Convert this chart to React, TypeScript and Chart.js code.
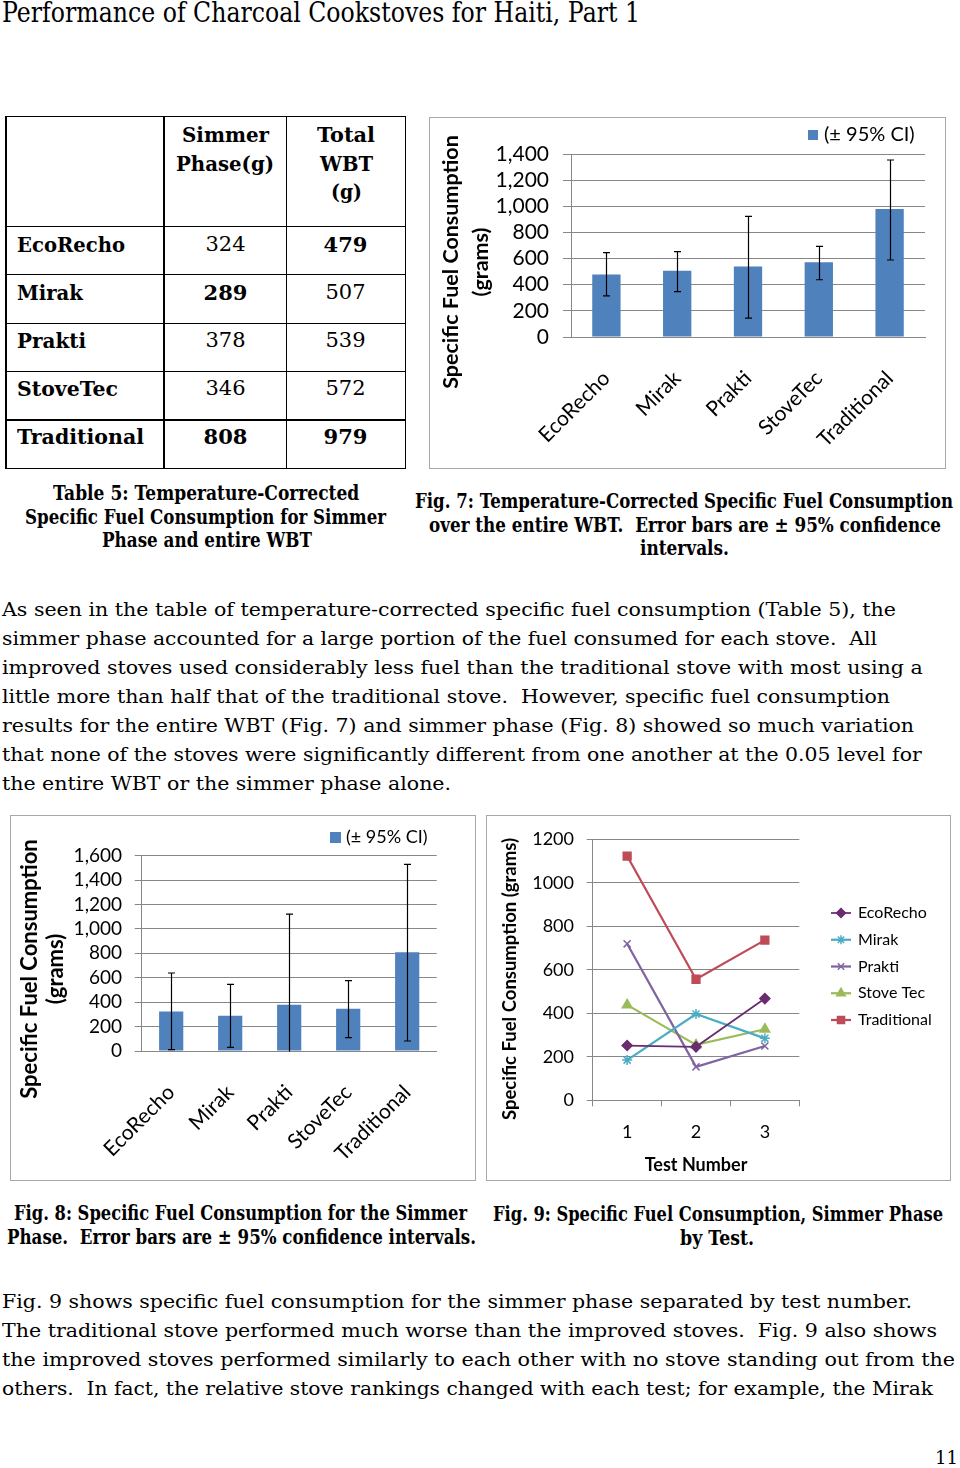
import React, { useEffect, useLayoutEffect, useRef } from 'react';
import { Chart, registerables } from 'chart.js';
import { drawPoint } from 'chart.js/helpers';

Chart.register(...registerables);

// ---------------- data ----------------
const stoves = ['EcoRecho', 'Mirak', 'Prakti', 'StoveTec', 'Traditional'];
const simmerPhase = [324, 289, 378, 346, 808];
const totalWbt = [479, 507, 539, 572, 979];
const simmerBold = [false, true, false, false, true];
const totalBold = [true, false, false, false, true];
const totalCiLow = [314, 347, 145, 438, 589];
const totalCiHigh = [645, 653, 923, 694, 1354];
const simmerCiLow = [11, 30, -366, 109, 82];
const simmerCiHigh = [639, 546, 1122, 576, 1529];
const ciLabel = '(± 95% CI)';

const testNumbers = ['1', '2', '3'];
const fig9Series = ['EcoRecho', 'Mirak', 'Prakti', 'Stove Tec', 'Traditional'];
const ecoRechoByTest = [252, 246, 468];
const mirakByTest = [185, 397, 285];
const praktiByTest = [720, 154, 250];
const stoveTecByTest = [439, 255, 327];
const traditionalByTest = [1124, 557, 737];

const fig7YMax = 1400;
const fig8YMax = 1600;
const fig9YMax = 1200;
const yStep = 200;

// ---------------- styles ----------------
const SERIF = '"DejaVu Serif", "Liberation Serif", serif';
const SANS = 'Lato, "Open Sans", sans-serif';
const BLUE = '#4F81BD';
const GRID = '#878787';
const BOX = '#a8a8a8';

Chart.defaults.font.family = SANS;

// ---------------- plugin ----------------
const annotPlugin: any = {
  id: 'annot',
  afterDatasetsDraw(chart: any, _a: any, o: any) {
    const eb = o && o.errorBars;
    if (!eb) return;
    const { ctx, chartArea: ca } = chart;
    const meta = chart.getDatasetMeta(0);
    const ys = chart.scales.y;
    ctx.save();
    ctx.beginPath();
    ctx.rect(ca.left - 10, ca.top - 20, ca.width + 20, ca.height + 20.5);
    ctx.clip();
    ctx.strokeStyle = eb.color;
    ctx.lineWidth = eb.width;
    meta.data.forEach((bar: any, i: number) => {
      const x = Math.round(bar.x) + 0.5;
      const yl = ys.getPixelForValue(eb.low[i]);
      const yh = ys.getPixelForValue(eb.high[i]);
      ctx.beginPath();
      ctx.moveTo(x, yl);
      ctx.lineTo(x, yh);
      ctx.moveTo(x - eb.cap, yh);
      ctx.lineTo(x + eb.cap, yh);
      ctx.moveTo(x - eb.cap, yl);
      ctx.lineTo(x + eb.cap, yl);
      ctx.stroke();
    });
    ctx.restore();
  },
  afterDraw(chart: any, _a: any, o: any) {
    if (!o) return;
    const ctx = chart.ctx;
    if (o.yTitle) {
      const t = o.yTitle;
      ctx.save();
      ctx.fillStyle = '#000';
      ctx.font = `bold ${t.size}px ${SANS}`;
      ctx.textAlign = 'center';
      ctx.textBaseline = 'middle';
      t.lines.forEach((line: string, i: number) => {
        ctx.save();
        ctx.translate(t.xs[i], t.y);
        ctx.rotate(-Math.PI / 2);
        ctx.fillText(line, 0, 0);
        ctx.restore();
      });
      ctx.restore();
    }
    if (o.boxLegend) {
      const L = o.boxLegend;
      const ds = chart.data.datasets[0];
      ctx.save();
      ctx.fillStyle = ds.backgroundColor;
      ctx.fillRect(L.x, L.y, L.box, L.box);
      ctx.fillStyle = '#000';
      ctx.font = `${L.size}px ${SANS}`;
      ctx.textAlign = 'left';
      ctx.textBaseline = 'middle';
      ctx.fillText(ds.label, L.textX, L.y + L.box / 2);
      ctx.restore();
    }
    if (o.lineLegend) {
      const L = o.lineLegend;
      ctx.save();
      ctx.font = `${L.size}px ${SANS}`;
      ctx.textAlign = 'left';
      ctx.textBaseline = 'middle';
      chart.data.datasets.forEach((ds: any, i: number) => {
        const y = L.top + i * L.spacing;
        ctx.strokeStyle = ds.borderColor;
        ctx.lineWidth = ds.borderWidth;
        ctx.beginPath();
        ctx.moveTo(L.x1, y);
        ctx.lineTo(L.x2, y);
        ctx.stroke();
        ctx.fillStyle = ds.backgroundColor;
        ctx.strokeStyle = ds.borderColor;
        ctx.lineWidth = ds.pointBorderWidth;
        drawPoint(ctx, { pointStyle: ds.pointStyle, radius: ds.pointRadius - 0.5, rotation: 0, borderWidth: ds.pointBorderWidth } as any, (L.x1 + L.x2) / 2, y);
        ctx.fillStyle = '#000';
        ctx.fillText(ds.label, L.textX, y);
      });
      ctx.restore();
    }
  },
};

// ---------------- chart configs ----------------
function barConfig(values: number[], low: number[], high: number[], yMax: number, lay: any): any {
  return {
    type: 'bar',
    data: {
      labels: stoves,
      datasets: [{ label: ciLabel, data: values, backgroundColor: BLUE, borderWidth: 0, barPercentage: lay.barPct, categoryPercentage: 1 }],
    },
    options: {
      responsive: false,
      animation: false,
      devicePixelRatio: 1,
      locale: 'en-US',
      layout: { padding: { top: lay.top, right: lay.right, left: 0, bottom: 0 } },
      plugins: {
        legend: { display: false },
        tooltip: { enabled: false },
        annot: {
          errorBars: { low, high, cap: 3.5, color: '#000', width: 1.2 },
          yTitle: lay.yTitle,
          boxLegend: lay.legend,
        },
      },
      scales: {
        x: {
          grid: { display: false },
          border: { color: GRID, width: 1 },
          ticks: { minRotation: 45, maxRotation: 45, autoSkip: false, padding: lay.xPad, color: '#000', font: { family: SANS, size: lay.xFont } },
          afterFit: (s: any) => { s.height = lay.xHeight; },
        },
        y: {
          min: 0,
          max: yMax,
          ticks: { stepSize: yStep, autoSkip: false, padding: lay.yPad, color: '#000', font: { family: SANS, size: lay.yFont } },
          grid: { color: GRID, tickLength: lay.tick, lineWidth: 1 },
          border: { color: GRID, width: 1 },
          afterFit: (s: any) => { s.width = lay.yWidth; },
        },
      },
    },
    plugins: [annotPlugin],
  };
}

function fig7Config() {
  return barConfig(totalWbt, totalCiLow, totalCiHigh, fig7YMax, {
    barPct: 0.4, top: 36, right: 20, xHeight: 131, yWidth: 141, tick: 8, yPad: 14, xPad: 21, xFont: 21, yFont: 21,
    yTitle: { lines: ['Specific Fuel Consumption', '(grams)'], xs: [21, 51], y: 144, size: 21.5 },
    legend: { x: 378, y: 12, box: 10, textX: 394, size: 20 },
  });
}

function fig8Config() {
  return barConfig(simmerPhase, simmerCiLow, simmerCiHigh, fig8YMax, {
    barPct: 0.41, top: 39.7, right: 38.3, xHeight: 129, yWidth: 130.7, tick: 7, yPad: 12.7, xPad: 21, xFont: 21, yFont: 19,
    yTitle: { lines: ['Specific Fuel Consumption', '(grams)'], xs: [19, 45], y: 153, size: 22 },
    legend: { x: 319, y: 16, box: 11, textX: 335, size: 18 },
  });
}

function fig9Config(): any {
  const mk = (label: string, data: number[], color: string, pointStyle: string, radius: number, width: number) => ({
    label, data, borderColor: color, backgroundColor: color, pointStyle, pointRadius: radius,
    pointBorderWidth: 1.5, borderWidth: width, tension: 0, fill: false,
  });
  return {
    type: 'line',
    data: {
      labels: testNumbers,
      datasets: [
        mk(fig9Series[0], ecoRechoByTest, '#6A2C70', 'rectRot', 5, 1.75),
        mk(fig9Series[1], mirakByTest, '#4BACC6', 'star', 5, 2.25),
        mk(fig9Series[2], praktiByTest, '#8064A2', 'crossRot', 5, 2.25),
        mk(fig9Series[3], stoveTecByTest, '#9BBB59', 'triangle', 5.5, 2.25),
        mk(fig9Series[4], traditionalByTest, '#BE4B57', 'rect', 5.5, 2.25),
      ],
    },
    options: {
      responsive: false,
      animation: false,
      devicePixelRatio: 1,
      locale: 'en-US',
      layout: { padding: { top: 15, right: 150.7, left: 0, bottom: 0 } },
      plugins: {
        legend: { display: false },
        tooltip: { enabled: false },
        annot: {
          yTitle: { lines: ['Specific Fuel Consumption (grams)'], xs: [23], y: 163, size: 18.5 },
          lineLegend: { x1: 344, x2: 364, textX: 371, top: 97, spacing: 26.75, size: 16 },
        },
      },
      scales: {
        x: {
          offset: true,
          grid: { offset: true, drawOnChartArea: false, drawTicks: true, tickLength: 6, color: GRID },
          border: { color: GRID, width: 1 },
          ticks: { padding: 15, color: '#000', font: { family: SANS, size: 18 } },
          title: { display: true, text: 'Test Number', color: '#000', font: { family: SANS, size: 18, weight: 'bold' }, padding: { top: 0, bottom: 4.2 } },
          afterFit: (s: any) => { s.height = 79.7; },
        },
        y: {
          min: 0,
          max: fig9YMax,
          ticks: { stepSize: yStep, autoSkip: false, padding: 12.7, color: '#000', font: { family: SANS, size: 18 }, callback: (v: any) => String(v) },
          grid: { color: GRID, tickLength: 6, lineWidth: 1 },
          border: { color: GRID, width: 1 },
          afterFit: (s: any) => { s.width = 105.7; },
        },
      },
    },
    plugins: [annotPlugin],
  };
}

// ---------------- components ----------------
function ChartBox({ left, top, width, height, make }: { left: number; top: number; width: number; height: number; make: () => any }) {
  const ref = useRef<HTMLCanvasElement>(null);
  useEffect(() => {
    if (!ref.current) return;
    const c = new Chart(ref.current, make());
    return () => c.destroy();
  }, []);
  return (
    <div style={{ position: 'absolute', left, top, width, height, border: `1px solid ${BOX}`, boxSizing: 'border-box', background: '#fff' }}>
      <canvas ref={ref} width={width - 2} height={height - 2} style={{ display: 'block', width: width - 2, height: height - 2 }} />
    </div>
  );
}

type TP = { t: string; x: number; b: number; size: number; bold?: boolean; w?: number; align?: 'left' | 'center' };
function T({ t, x, b, size, bold, w, align = 'left' }: TP) {
  const ref = useRef<HTMLSpanElement>(null);
  useLayoutEffect(() => {
    const el = ref.current;
    if (!el || !w) return;
    const fit = () => {
      el.style.transform = 'none';
      const m = el.getBoundingClientRect().width;
      if (m > 0) el.style.transform = `scaleX(${w / m})`;
    };
    fit();
    const f: any = (document as any).fonts;
    if (f && f.ready) f.ready.then(fit);
  }, [t, w, size]);
  const style: React.CSSProperties = {
    position: 'absolute',
    top: b - size * 0.846,
    whiteSpace: 'pre',
    fontFamily: SERIF,
    fontSize: size,
    lineHeight: `${size}px`,
    fontWeight: bold ? 700 : 400,
    color: '#000',
  };
  if (w) style.left = align === 'center' ? x - w / 2 : x;
  else if (align === 'center') {
    style.left = x - 300;
    style.width = 600;
    style.textAlign = 'center';
  } else style.left = x;
  return (
    <div style={style}>
      <span ref={ref} style={{ display: 'inline-block', transformOrigin: '0 50%' }}>{t}</span>
    </div>
  );
}

// ---------------- page layout ----------------
const tableH = [116.7, 226.7, 274.7, 323.3, 371.7, 420, 468.3];
const tableV = [6, 164, 286.7, 405.7];
const rowBase = [251.5, 299.5, 348, 396, 444];
const rowLabelW = [108, 66, 69, 101, 127];

const para1: [string, number, number][] = [
  ['As seen in the table of temperature-corrected specific fuel consumption (Table 5), the', 896, 616],
  ['simmer phase accounted for a large portion of the fuel consumed for each stove.  All', 877, 645],
  ['improved stoves used considerably less fuel than the traditional stove with most using a', 922.7, 674],
  ['little more than half that of the traditional stove.  However, specific fuel consumption', 890, 703],
  ['results for the entire WBT (Fig. 7) and simmer phase (Fig. 8) showed so much variation', 914, 732],
  ['that none of the stoves were significantly different from one another at the 0.05 level for', 921.7, 761],
  ['the entire WBT or the simmer phase alone.', 451, 790],
];
const para2: [string, number, number][] = [
  ['Fig. 9 shows specific fuel consumption for the simmer phase separated by test number.', 912, 1308],
  ['The traditional stove performed much worse than the improved stoves.  Fig. 9 also shows', 937, 1337],
  ['the improved stoves performed similarly to each other with no stove standing out from the', 955, 1366],
  ['others.  In fact, the relative stove rankings changed with each test; for example, the Mirak', 933, 1395],
];
const captions: [string, number, number, number][] = [
  ['Table 5: Temperature-Corrected', 52.7, 359, 500],
  ['Specific Fuel Consumption for Simmer', 25, 386, 523.5],
  ['Phase and entire WBT', 101.7, 311.7, 547],
  ['Fig. 7: Temperature-Corrected Specific Fuel Consumption', 415, 953, 508],
  ['over the entire WBT.  Error bars are ± 95% confidence', 429, 941, 531.5],
  ['intervals.', 640, 729, 555],
  ['Fig. 8: Specific Fuel Consumption for the Simmer', 14, 467, 1220],
  ['Phase.  Error bars are ± 95% confidence intervals.', 7, 476, 1244],
  ['Fig. 9: Specific Fuel Consumption, Simmer Phase', 493, 943, 1221],
  ['by Test.', 680, 754, 1245],
];

export default function App() {
  const lw = 1.5;
  return (
    <div style={{ position: 'absolute', left: 0, top: 0, width: 960, height: 1468, background: '#fff', overflow: 'hidden' }}>
      <T t="Performance of Charcoal Cookstoves for Haiti, Part 1" x={2} b={23} size={28} w={638} />

      {/* table lines */}
      {tableH.map((y, i) => (
        <div key={'h' + i} style={{ position: 'absolute', left: tableV[0] - lw / 2, top: y - lw / 2, width: tableV[3] - tableV[0] + lw, height: lw, background: '#000' }} />
      ))}
      {tableV.map((x, i) => (
        <div key={'v' + i} style={{ position: 'absolute', left: x - lw / 2, top: tableH[0] - lw / 2, width: lw, height: tableH[6] - tableH[0] + lw, background: '#000' }} />
      ))}
      <T t="Simmer" x={225} b={142} size={21} bold w={87} align="center" />
      <T t="Phase(g)" x={225} b={171} size={21} bold w={98} align="center" />
      <T t="Total" x={346} b={142} size={21} bold w={58} align="center" />
      <T t="WBT" x={346} b={170.5} size={21} bold w={53} align="center" />
      <T t="(g)" x={346} b={198.5} size={21} bold w={31} align="center" />
      {stoves.map((s, i) => (
        <React.Fragment key={s}>
          <T t={s} x={17} b={rowBase[i]} size={21} bold w={rowLabelW[i]} />
          <T t={String(simmerPhase[i])} x={225.5} b={rowBase[i]} size={21} bold={simmerBold[i]} align="center" />
          <T t={String(totalWbt[i])} x={345.5} b={rowBase[i]} size={21} bold={totalBold[i]} align="center" />
        </React.Fragment>
      ))}

      <ChartBox left={429} top={117} width={517} height={352} make={fig7Config} />
      <ChartBox left={10} top={815} width={466} height={366} make={fig8Config} />
      <ChartBox left={486} top={815} width={465} height={366} make={fig9Config} />

      {captions.map(([t, x0, x1, b], i) => (
        <T key={'c' + i} t={t} x={x0} b={b} size={20} bold w={x1 - x0} />
      ))}
      {para1.map(([t, x1, b], i) => (
        <T key={'p1' + i} t={t} x={2} b={b} size={18} w={x1 - 2} />
      ))}
      {para2.map(([t, x1, b], i) => (
        <T key={'p2' + i} t={t} x={2} b={b} size={18} w={x1 - 2} />
      ))}
      <T t="11" x={935} b={1464} size={18} w={23} />
    </div>
  );
}
